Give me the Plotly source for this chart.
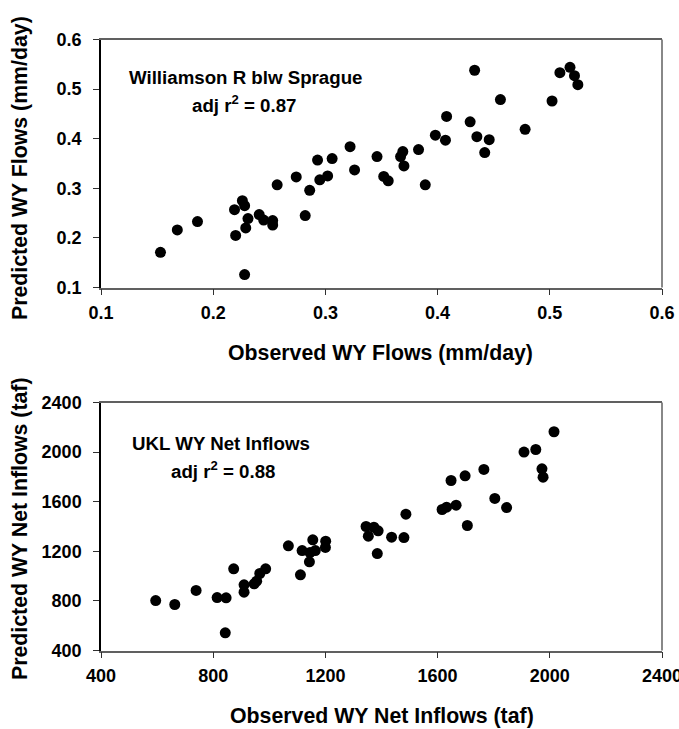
import plotly.graph_objects as go

# --- Top panel: Williamson R blw Sprague (mm/day) ---
obs_flow = [0.153, 0.168, 0.186, 0.228, 0.220, 0.219, 0.226, 0.228, 0.231, 0.229,
            0.241, 0.245, 0.253, 0.253, 0.257, 0.274, 0.282, 0.286, 0.295, 0.293,
            0.302, 0.306, 0.322, 0.326, 0.346, 0.352, 0.356, 0.367, 0.369, 0.370,
            0.383, 0.389, 0.398, 0.408, 0.407, 0.429, 0.433, 0.435, 0.442, 0.446,
            0.456, 0.478, 0.502, 0.509, 0.518, 0.522, 0.525]
pred_flow = [0.171, 0.216, 0.233, 0.126, 0.205, 0.257, 0.275, 0.265, 0.239, 0.220,
             0.247, 0.236, 0.235, 0.226, 0.307, 0.323, 0.245, 0.296, 0.317, 0.357,
             0.325, 0.360, 0.384, 0.337, 0.364, 0.324, 0.315, 0.364, 0.374, 0.345,
             0.378, 0.307, 0.407, 0.445, 0.397, 0.434, 0.538, 0.404, 0.372, 0.398,
             0.479, 0.419, 0.476, 0.533, 0.544, 0.527, 0.509]

# --- Bottom panel: UKL WY Net Inflows (taf) ---
obs_inflow = [595, 663, 739, 814, 846, 843, 873, 910, 910, 946,
              955, 966, 987, 1068, 1111, 1117, 1143, 1155, 1145, 1164,
              1201, 1200, 1345, 1353, 1373, 1388, 1385, 1436, 1480, 1487,
              1616, 1632, 1666, 1648, 1698, 1706, 1765, 1804, 1846, 1908,
              1950, 1972, 1976, 2015]
pred_inflow = [803, 771, 884, 827, 825, 543, 1059, 930, 870, 938,
               959, 1021, 1059, 1244, 1010, 1206, 1115, 1293, 1190, 1206,
               1282, 1231, 1400, 1322, 1394, 1365, 1182, 1314, 1311, 1499,
               1537, 1556, 1572, 1771, 1809, 1408, 1860, 1626, 1553, 2000,
               2021, 1865, 1798, 2164]

top_ticks_x = [0.1, 0.2, 0.3, 0.4, 0.5, 0.6]
top_ticks_y = [0.1, 0.2, 0.3, 0.4, 0.5, 0.6]
bot_ticks_x = [400, 800, 1200, 1600, 2000, 2400]
bot_ticks_y = [400, 800, 1200, 1600, 2000, 2400]

FONT = "Arial, Liberation Sans, sans-serif"
W, H = 679, 729

# pixel geometry of plot areas
L, R = 101, 662
top_t, top_b = 39.5, 287.5
bot_t, bot_b = 402.5, 650.5

def py(p):
    return 1 - p / H

fig = go.Figure()
fig.add_trace(go.Scatter(x=obs_flow, y=pred_flow, mode="markers",
                         marker=dict(size=11, color="black"),
                         xaxis="x", yaxis="y", showlegend=False))
fig.add_trace(go.Scatter(x=obs_inflow, y=pred_inflow, mode="markers",
                         marker=dict(size=11, color="black"),
                         xaxis="x2", yaxis="y2", showlegend=False))

tickfont = dict(family=FONT, size=18, color="black", weight="bold")
def xax(rng, ticks, dom_y_anchor):
    return dict(range=rng, tickvals=ticks, ticktext=[str(t) for t in ticks],
                domain=[L / W, R / W], anchor=dom_y_anchor, automargin=False,
                showline=True, linecolor="#606060", linewidth=1.5, mirror=True,
                ticks="outside", ticklen=6, tickcolor="#303030", tickwidth=1,
                showgrid=False, zeroline=False, tickfont=tickfont,
                ticklabelstandoff=2, ticklabeloverflow="allow")

def yax(rng, ticks, dom, xanchor):
    return dict(range=rng, tickvals=ticks, ticktext=[str(t) for t in ticks],
                domain=dom, anchor=xanchor, automargin=False,
                showline=True, linecolor="black", linewidth=1.5, mirror=False,
                ticks="outside", ticklen=6, tickcolor="#303030", tickwidth=1,
                showgrid=False, zeroline=False, tickfont=tickfont,
                ticklabelstandoff=8, ticklabeloverflow="allow")

fig.update_layout(
    template="none",
    width=W, height=H,
    margin=dict(l=0, r=0, t=0, b=0, pad=0),
    paper_bgcolor="white", plot_bgcolor="white",
    showlegend=False,
    xaxis=xax([0.1, 0.6], top_ticks_x, "y"),
    yaxis=yax([0.1, 0.6], top_ticks_y, [py(top_b), py(top_t)], "x"),
    xaxis2=xax([400, 2400], bot_ticks_x, "y2"),
    yaxis2=yax([400, 2400], bot_ticks_y, [py(bot_b), py(bot_t)], "x2"),
    font=dict(family=FONT, color="black"),
)

# right-side frame lines (grey)
for yt, yb in [(top_t, top_b), (bot_t, bot_b)]:
    fig.add_shape(type="line", xref="paper", yref="paper",
                  x0=R / W, x1=R / W, y0=py(yb), y1=py(yt),
                  line=dict(color="#606060", width=1.5))

def ann(text, x, y, size, angle=0):
    fig.add_annotation(text=text, xref="paper", yref="paper",
                       x=x / W, y=py(y), showarrow=False, textangle=angle,
                       xanchor="center", yanchor="middle",
                       font=dict(family=FONT, size=size, color="black", weight="bold"))

ann("Williamson R blw Sprague", 245, 77, 18.7)
ann("adj r<sup>2</sup> = 0.87", 244, 104, 18.7)
ann("UKL WY Net Inflows", 221, 443, 18.7)
ann("adj r<sup>2</sup> = 0.88", 223, 470, 18.7)

ann("Observed WY Flows (mm/day)", 380, 353, 21.3)
ann("Observed WY Net Inflows (taf)", 382, 716, 21.3)
ann("Predicted WY Flows (mm/day)", 20, 168, 21.3, -90)
ann("Predicted WY Net Inflows (taf)", 20, 529, 21.3, -90)

fig.write_html("out.html")
